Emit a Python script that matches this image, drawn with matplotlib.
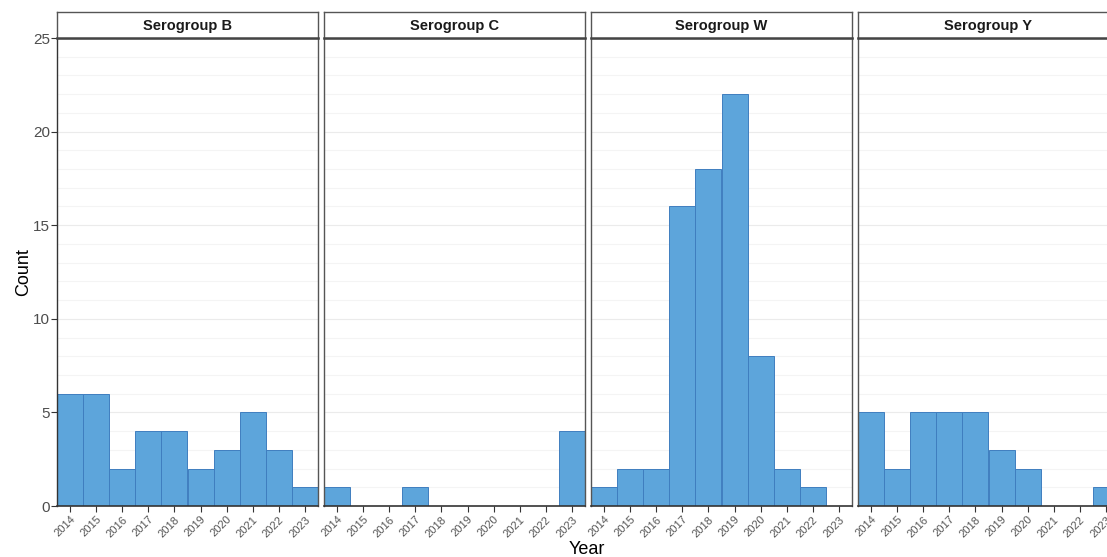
import matplotlib
matplotlib.use("Agg")
import matplotlib.pyplot as plt

plt.rcParams['font.family'] = ['Liberation Sans', 'DejaVu Sans']

# data
years = [2014, 2015, 2016, 2017, 2018, 2019, 2020, 2021, 2022, 2023]
groups = ["Serogroup B", "Serogroup C", "Serogroup W", "Serogroup Y"]
count_b = [6, 6, 2, 4, 4, 2, 3, 5, 3, 1]
count_c = [1, 0, 0, 1, 0, 0, 0, 0, 0, 4]
count_w = [1, 2, 2, 16, 18, 22, 8, 2, 1, 0]
count_y = [5, 2, 5, 5, 5, 3, 2, 0, 0, 1]
counts = [count_b, count_c, count_w, count_y]

W, H = 1107, 557
fig = plt.figure(figsize=(W / 100, H / 100), dpi=100)
fig.patch.set_facecolor("white")

panel_left = [57, 324, 591, 858]
panel_w = 261
top, bottom = 38, 506
strip_top = 12

fill = "#5DA5DB"
edge = "#3F7EBF"
border = "#555555"

for i, (name, vals) in enumerate(zip(groups, counts)):
    x0 = panel_left[i]
    ax = fig.add_axes([x0 / W, (H - bottom) / H, panel_w / W, (bottom - top) / H])
    for y in range(1, 25):
        ax.axhline(y, color="#ebebeb" if y % 5 == 0 else "#f4f4f4", lw=0.8, zorder=0)
    ax.bar(years, vals, width=1.0, color=fill, edgecolor=edge, linewidth=0.7, zorder=2)
    ax.set_xlim(2013.5, 2023.5)
    ax.set_ylim(0, 25)
    ax.set_xticks(years)
    ax.set_xticklabels([str(y) for y in years], rotation=45, ha="right",
                       rotation_mode="anchor", fontsize=8, color="#555555")
    ax.set_yticks([0, 5, 10, 15, 20, 25])
    ax.tick_params(axis="both", direction="out", length=4, width=0.8, color="#333333", pad=2)
    if i == 0:
        ax.set_yticklabels(["0", "5", "10", "15", "20", "25"], fontsize=11, color="#4d4d4d")
        ax.tick_params(axis="y", pad=1)
        ax.set_ylabel("Count", fontsize=13, labelpad=1)
        ax.spines["left"].set_color("#333333")
    else:
        ax.tick_params(axis="y", length=0, labelleft=False)
    for s in ["top", "right"] + ([] if i == 0 else ["left"]):
        ax.spines[s].set_color(border)
    for s in ax.spines.values():
        s.set_linewidth(1.0)
    ax.spines["bottom"].set_color("#333333")
    ax.spines["bottom"].set_linewidth(1.2)

    # facet strip
    sax = fig.add_axes([x0 / W, (H - top) / H, panel_w / W, (top - strip_top) / H])
    sax.set_xticks([])
    sax.set_yticks([])
    for s in sax.spines.values():
        s.set_color(border)
        s.set_linewidth(1.0)
    sax.spines["bottom"].set_color("#444444")
    sax.spines["bottom"].set_linewidth(1.8)
    sax.text(0.5, 0.45, name, ha="center", va="center", fontsize=10.5,
             fontweight="bold", color="#1a1a1a", transform=sax.transAxes)

fig.text(587 / W, 1 - 549 / H, "Year", ha="center", va="center", fontsize=13)

fig.savefig("out.png", dpi=100)
